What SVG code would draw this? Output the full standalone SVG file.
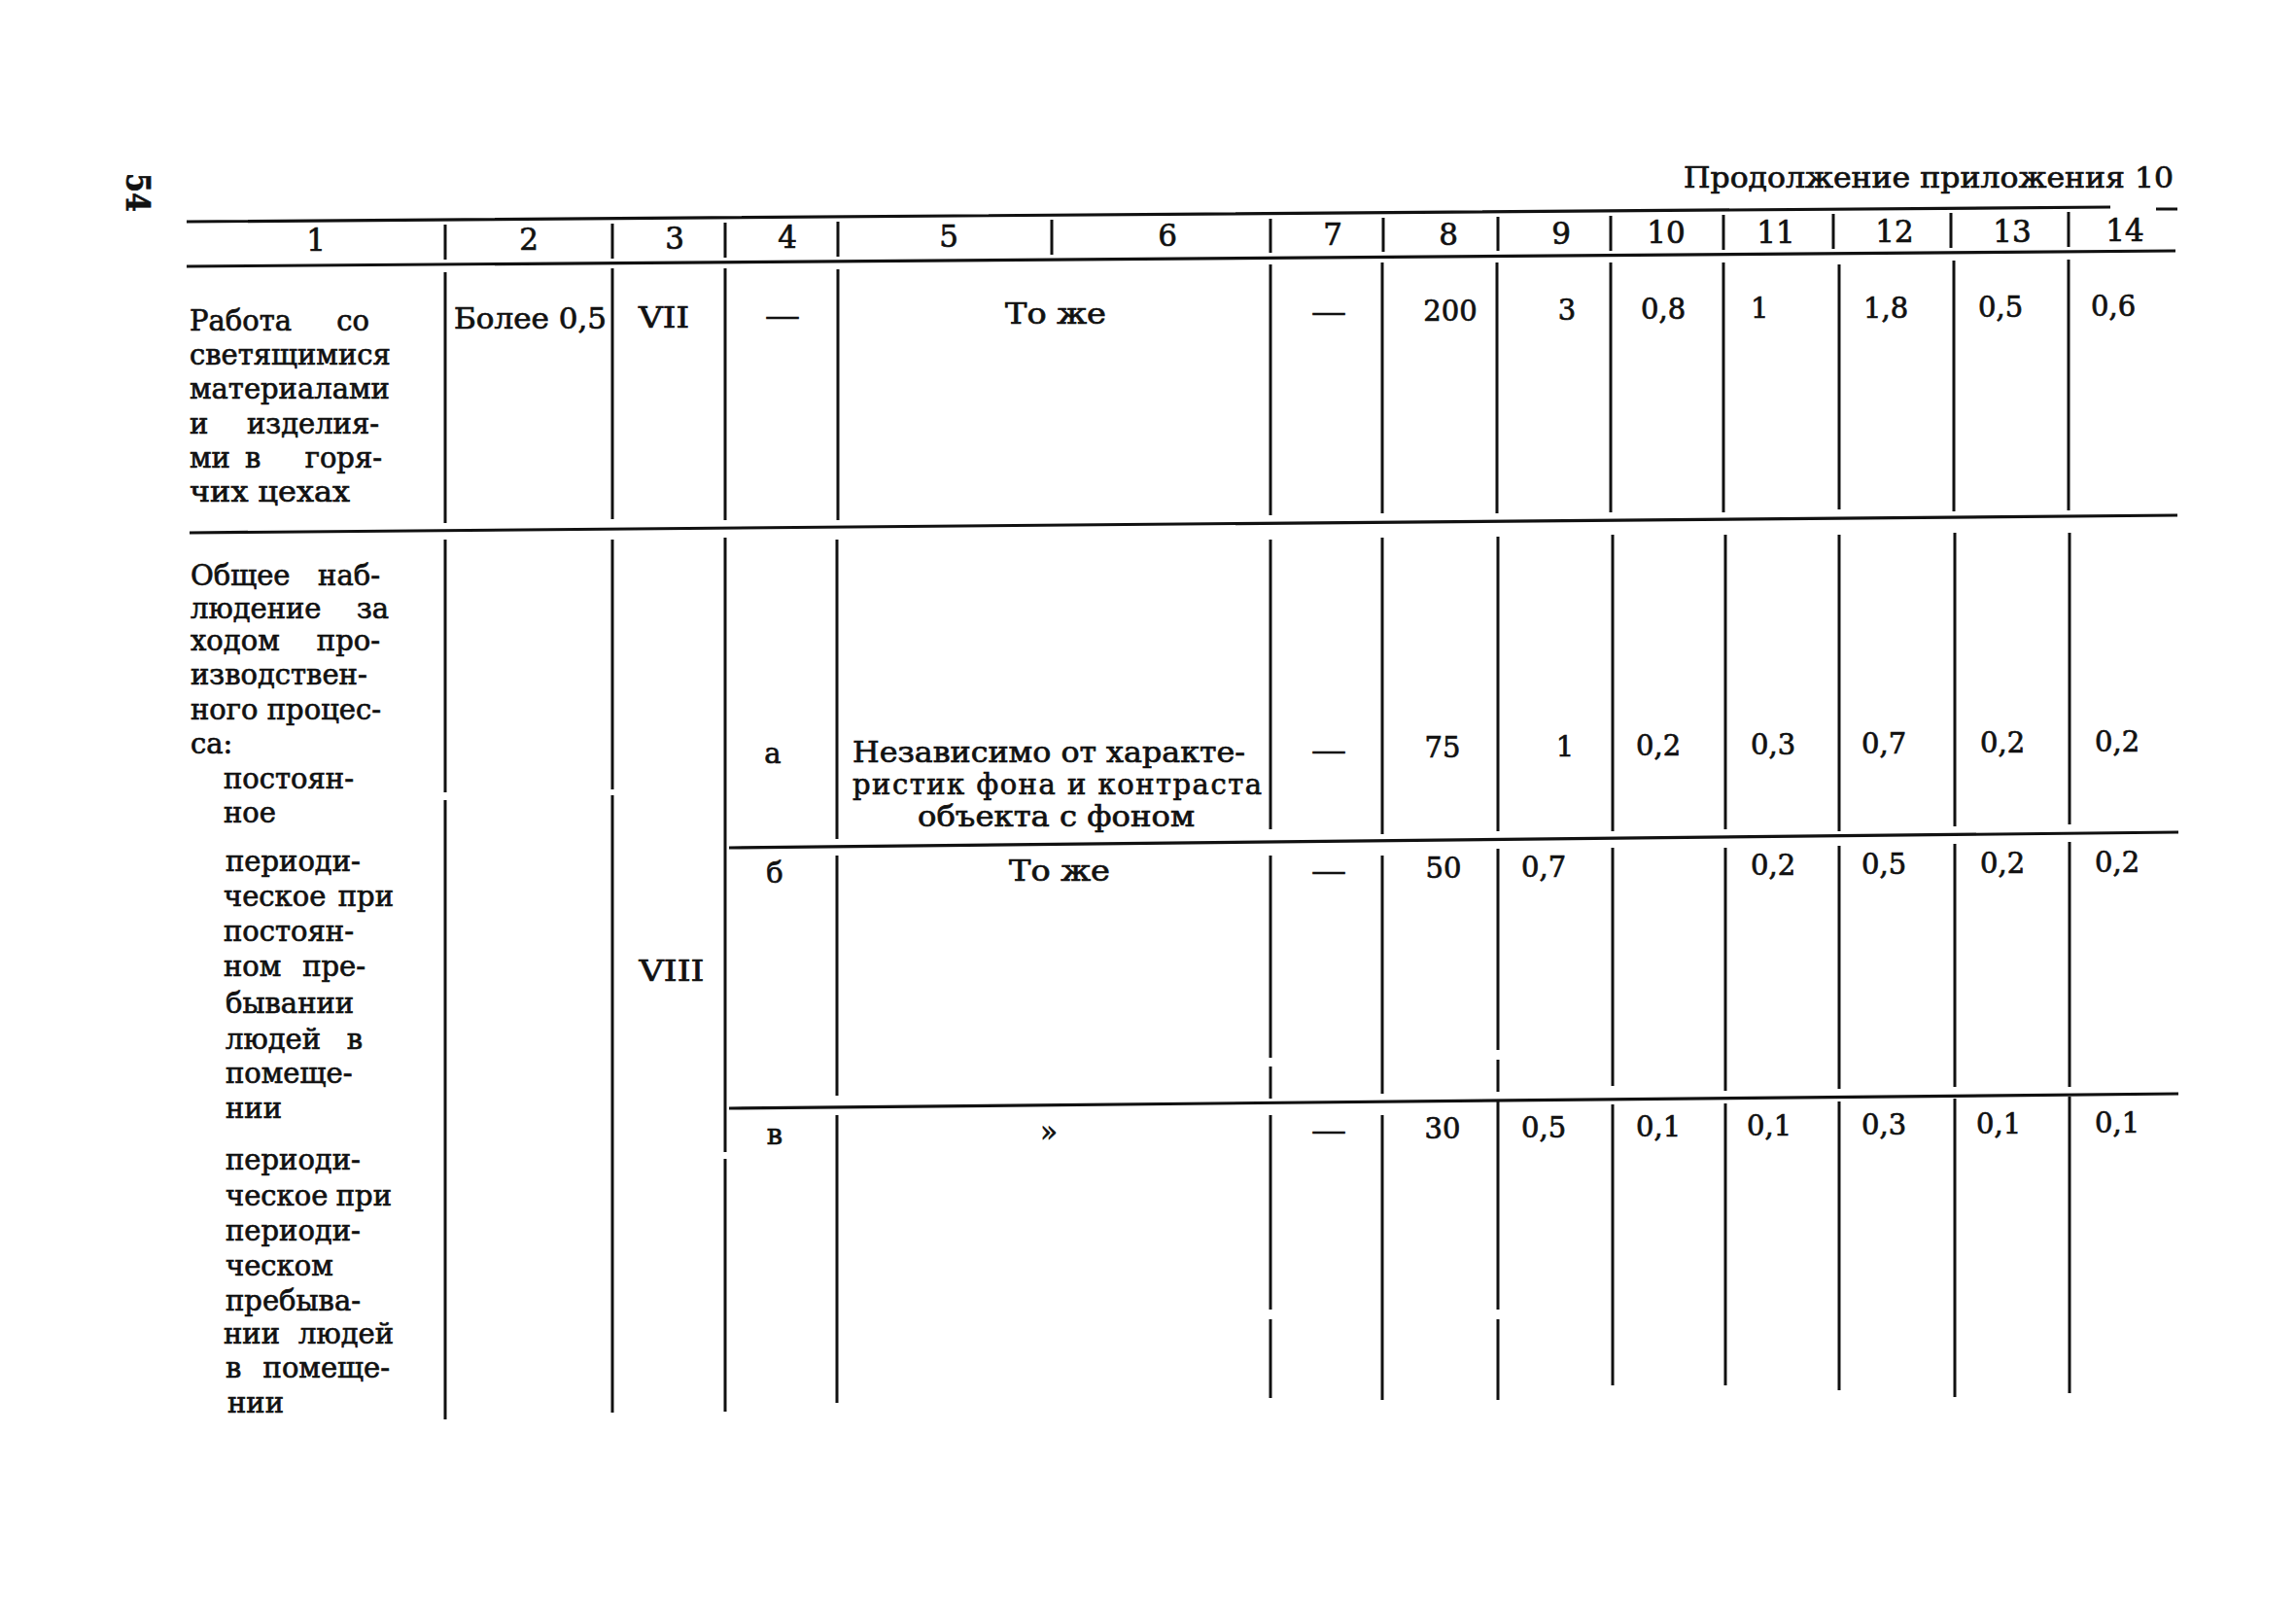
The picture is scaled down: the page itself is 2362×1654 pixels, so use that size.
<svg xmlns="http://www.w3.org/2000/svg" width="2362" height="1654" viewBox="0 0 2362 1654">
<style>
  text { font-family: "DejaVu Serif", "Liberation Serif", serif; fill: #111; stroke: #111; stroke-width: 0.7px; }
  .t { font-size: 29px; }
  .n { font-size: 29px; }
  .c { text-anchor: middle; }
  .e { text-anchor: end; }
  .h { font-size: 31px; text-anchor: middle; }
  .rule { stroke: #111; stroke-width: 3.2; fill: none; stroke-linecap: butt; }
  .vr { stroke: #111; stroke-width: 3; fill: none; }
</style>
<rect width="2362" height="1654" fill="#fff"/>

<g id="page-number">
  <text transform="translate(130,178) rotate(90)" font-size="34" font-weight="bold" textLength="40" lengthAdjust="spacingAndGlyphs">54</text>
</g>
<g id="title">
  <text class="t" x="1732" y="193" textLength="504" lengthAdjust="spacingAndGlyphs">Продолжение приложения 10</text>
</g>

<g id="connectors">
  <!-- horizontal rules -->
  <path class="rule" d="M192 228 L2171 213 M2218 215 L2240 215"/>
  <path class="rule" d="M192 274 L2238 258"/>
  <path class="rule" d="M195 548 L2240 530"/>
  <path class="rule" d="M750 872 L2241 856"/>
  <path class="rule" d="M750 1140 L2241 1125"/>
  <!-- header ticks -->
  <path class="vr" d="M458 231V267 M630 230V266 M746 229V265 M862 228V264 M1082 226V262 M1307 225V260 M1423 224V259 M1541 223V258 M1657 222V258 M1773 221V257 M1886 220V256 M2007 219V255 M2128 218V254"/>
  <!-- row 1 verticals -->
  <path class="vr" d="M458 280V538 M630 276V534 M746 276V535 M862 277V535 M1307 272V530 M1422 270V528 M1540 270V528 M1657 270V527 M1773 270V527 M1892 272V524 M2010 268V526 M2128 267V525"/>
  <!-- row 2 verticals -->
  <path class="vr" d="M458 555V815 M458 823V1460
    M630 555V812 M630 818V1453
    M746 553V1185 M746 1192V1452
    M861 555V863 M861 880V1127 M861 1147V1443
    M1307 555V853 M1307 880V1088 M1307 1097V1130 M1307 1147V1347 M1307 1357V1438
    M1422 553V858 M1422 880V1125 M1422 1147V1440
    M1541 552V855 M1541 873V1080 M1541 1090V1123 M1541 1133V1347 M1541 1357V1440
    M1659 550V855 M1659 872V1117 M1659 1136V1425
    M1775 550V853 M1775 872V1122 M1775 1135V1425
    M1892 550V855 M1892 870V1120 M1892 1133V1430
    M2011 548V850 M2011 868V1118 M2011 1130V1437
    M2129 548V848 M2129 866V1118 M2129 1128V1433"/>
</g>

<g id="header-row">
  <text class="h" x="325" y="258">1</text>
  <text class="h" x="544" y="257">2</text>
  <text class="h" x="694" y="256">3</text>
  <text class="h" x="810" y="255">4</text>
  <text class="h" x="976" y="254">5</text>
  <text class="h" x="1201" y="253">6</text>
  <text class="h" x="1371" y="252">7</text>
  <text class="h" x="1490" y="252">8</text>
  <text class="h" x="1606" y="251">9</text>
  <text class="h" x="1714" y="250">10</text>
  <text class="h" x="1827" y="250">11</text>
  <text class="h" x="1949" y="249">12</text>
  <text class="h" x="2070" y="249">13</text>
  <text class="h" x="2186" y="248">14</text>
</g>

<g id="row-1">
  <text class="t" y="340"><tspan x="195">Работа</tspan><tspan x="380" class="e">со</tspan></text>
  <text class="t" x="195" y="375">светящимися</text>
  <text class="t" x="195" y="410">материалами</text>
  <text class="t" y="446"><tspan x="195">и</tspan><tspan x="390" class="e">изделия-</tspan></text>
  <text class="t" y="481"><tspan x="195">ми</tspan><tspan x="252">в</tspan><tspan x="393" class="e">горя-</tspan></text>
  <text class="t" x="195" y="516" textLength="165" lengthAdjust="spacingAndGlyphs">чих цехах</text>
  <text class="t" x="467" y="338" textLength="157" lengthAdjust="spacingAndGlyphs">Более 0,5</text>
  <text class="t c" x="683" y="337" font-size="31" textLength="52" lengthAdjust="spacingAndGlyphs">VII</text>
  <text class="t c" x="805" y="335" textLength="36" lengthAdjust="spacingAndGlyphs">—</text>
  <text class="t c" x="1086" y="333" textLength="104" lengthAdjust="spacingAndGlyphs">То же</text>
  <text class="t c" x="1367" y="331" textLength="36" lengthAdjust="spacingAndGlyphs">—</text>
  <text class="n c" x="1492" y="330">200</text>
  <text class="n c" x="1612" y="329">3</text>
  <text class="n" x="1688" y="328">0,8</text>
  <text class="n" x="1801" y="327">1</text>
  <text class="n" x="1917" y="327">1,8</text>
  <text class="n" x="2035" y="326">0,5</text>
  <text class="n" x="2151" y="325">0,6</text>
</g>

<g id="row-2-label">
  <text class="t" y="602"><tspan x="196">Общее</tspan><tspan x="391" class="e">наб-</tspan></text>
  <text class="t" y="636"><tspan x="196">людение</tspan><tspan x="400" class="e">за</tspan></text>
  <text class="t" y="669"><tspan x="196">ходом</tspan><tspan x="391" class="e">про-</tspan></text>
  <text class="t" x="196" y="704">изводствен-</text>
  <text class="t" y="740"><tspan x="196">ного</tspan><tspan x="392" class="e">процес-</tspan></text>
  <text class="t" x="196" y="775">са:</text>
  <text class="t" x="230" y="811">постоян-</text>
  <text class="t" x="230" y="846">ное</text>
  <text class="t" x="232" y="896">периоди-</text>
  <text class="t" y="932"><tspan x="230">ческое</tspan><tspan x="405" class="e">при</tspan></text>
  <text class="t" x="230" y="968">постоян-</text>
  <text class="t" y="1004"><tspan x="230">ном</tspan><tspan x="376" class="e">пре-</tspan></text>
  <text class="t" x="232" y="1042">бывании</text>
  <text class="t" y="1079"><tspan x="232">людей</tspan><tspan x="373" class="e">в</tspan></text>
  <text class="t" x="232" y="1114">помеще-</text>
  <text class="t" x="232" y="1150">нии</text>
  <text class="t" x="232" y="1203">периоди-</text>
  <text class="t" y="1240"><tspan x="232">ческое</tspan><tspan x="403" class="e">при</tspan></text>
  <text class="t" x="232" y="1276">периоди-</text>
  <text class="t" x="232" y="1312">ческом</text>
  <text class="t" x="232" y="1348">пребыва-</text>
  <text class="t" y="1382"><tspan x="230">нии</tspan><tspan x="405" class="e">людей</tspan></text>
  <text class="t" y="1417"><tspan x="232">в</tspan><tspan x="401" class="e">помеще-</tspan></text>
  <text class="t" x="234" y="1453">нии</text>
  <text class="t c" x="691" y="1009" font-size="33" textLength="67" lengthAdjust="spacingAndGlyphs">VIII</text>
</g>

<g id="row-2a">
  <text class="t c" x="795" y="785">а</text>
  <text class="t" x="877" y="784" textLength="404" lengthAdjust="spacingAndGlyphs">Независимо от характе-</text>
  <text class="t" x="877" y="817" textLength="421" lengthAdjust="spacing">ристик фона и контраста</text>
  <text class="t" x="944" y="850" textLength="285" lengthAdjust="spacingAndGlyphs">объекта с фоном</text>
  <text class="t c" x="1367" y="782" textLength="36" lengthAdjust="spacingAndGlyphs">—</text>
  <text class="n c" x="1484" y="779">75</text>
  <text class="n c" x="1610" y="778">1</text>
  <text class="n" x="1683" y="777">0,2</text>
  <text class="n" x="1801" y="776">0,3</text>
  <text class="n" x="1915" y="775">0,7</text>
  <text class="n" x="2037" y="774">0,2</text>
  <text class="n" x="2155" y="773">0,2</text>
</g>

<g id="row-2b">
  <text class="t c" x="797" y="908">б</text>
  <text class="t c" x="1090" y="906" textLength="104" lengthAdjust="spacingAndGlyphs">То же</text>
  <text class="t c" x="1367" y="906" textLength="36" lengthAdjust="spacingAndGlyphs">—</text>
  <text class="n c" x="1485" y="903">50</text>
  <text class="n" x="1565" y="902">0,7</text>
  <text class="n" x="1801" y="900">0,2</text>
  <text class="n" x="1915" y="899">0,5</text>
  <text class="n" x="2037" y="898">0,2</text>
  <text class="n" x="2155" y="897">0,2</text>
</g>

<g id="row-2c">
  <text class="t c" x="797" y="1177">в</text>
  <text class="t c" x="1079" y="1174">»</text>
  <text class="t c" x="1367" y="1173" textLength="36" lengthAdjust="spacingAndGlyphs">—</text>
  <text class="n c" x="1484" y="1171">30</text>
  <text class="n" x="1565" y="1170">0,5</text>
  <text class="n" x="1683" y="1169">0,1</text>
  <text class="n" x="1797" y="1168">0,1</text>
  <text class="n" x="1915" y="1167">0,3</text>
  <text class="n" x="2033" y="1166">0,1</text>
  <text class="n" x="2155" y="1165">0,1</text>
</g>
</svg>
